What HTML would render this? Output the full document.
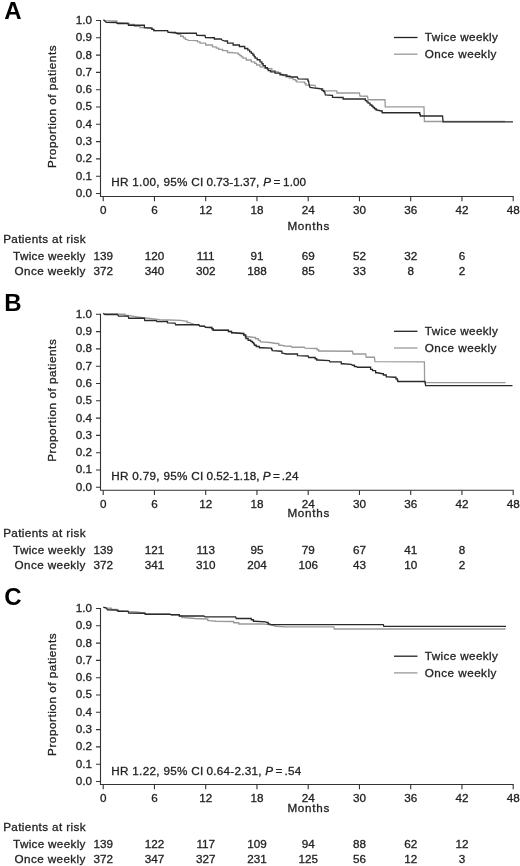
<!DOCTYPE html>
<html><head><meta charset="utf-8"><style>
html,body{margin:0;padding:0;background:#fff;}
svg{display:block;filter:grayscale(1);}
text{font-family:"Liberation Sans", sans-serif;font-size:11.7px;fill:#222;stroke:#222;stroke-width:0.3px;}
.lt{font-weight:bold;font-size:24px;fill:#000;stroke:none;}
</style></head><body>
<svg width="520" height="866" viewBox="0 0 520 866">
<g>
<text class="lt" x="4.2" y="18.80">A</text>
<path d="M100.5 20.00 V196.50 H513.7" fill="none" stroke="#333" stroke-width="1.1"/>
<path d="M96 193.50 H100.5 M96 176.20 H100.5 M96 158.90 H100.5 M96 141.60 H100.5 M96 124.30 H100.5 M96 107.00 H100.5 M96 89.70 H100.5 M96 72.40 H100.5 M96 55.10 H100.5 M96 37.80 H100.5 M96 20.50 H100.5 M103.20 196.50 V201.30 M154.45 196.50 V201.30 M205.70 196.50 V201.30 M256.95 196.50 V201.30 M308.20 196.50 V201.30 M359.45 196.50 V201.30 M410.70 196.50 V201.30 M461.95 196.50 V201.30 M513.20 196.50 V201.30" fill="none" stroke="#333" stroke-width="1.1"/>
<text x="92" y="196.90" text-anchor="end">0.0</text>
<text x="92" y="179.60" text-anchor="end">0.1</text>
<text x="92" y="162.30" text-anchor="end">0.2</text>
<text x="92" y="145.00" text-anchor="end">0.3</text>
<text x="92" y="127.70" text-anchor="end">0.4</text>
<text x="92" y="110.40" text-anchor="end">0.5</text>
<text x="92" y="93.10" text-anchor="end">0.6</text>
<text x="92" y="75.80" text-anchor="end">0.7</text>
<text x="92" y="58.50" text-anchor="end">0.8</text>
<text x="92" y="41.20" text-anchor="end">0.9</text>
<text x="92" y="23.90" text-anchor="end">1.0</text>
<text x="103.20" y="214.20" text-anchor="middle">0</text>
<text x="154.45" y="214.20" text-anchor="middle">6</text>
<text x="205.70" y="214.20" text-anchor="middle">12</text>
<text x="256.95" y="214.20" text-anchor="middle">18</text>
<text x="308.20" y="214.20" text-anchor="middle">24</text>
<text x="359.45" y="214.20" text-anchor="middle">30</text>
<text x="410.70" y="214.20" text-anchor="middle">36</text>
<text x="461.95" y="214.20" text-anchor="middle">42</text>
<text x="513.20" y="214.20" text-anchor="middle">48</text>
<text x="308.4" y="230.40" text-anchor="middle" textLength="42" lengthAdjust="spacing">Months</text>
<text transform="translate(56.3 106.70) rotate(-90)" text-anchor="middle" textLength="122.5" lengthAdjust="spacing">Proportion of patients</text>
<path d="M394 37.50 H417.5" stroke="#222" stroke-width="1.3"/>
<path d="M394 54.20 H417.5" stroke="#999" stroke-width="1.3"/>
<text x="424.8" y="41.30" textLength="73" lengthAdjust="spacing">Twice weekly</text>
<text x="424.8" y="57.80" textLength="71.5" lengthAdjust="spacing">Once weekly</text>
<text x="111.24" y="186.00" style="letter-spacing:0.311px">HR 1.00, 95% CI</text>
<text x="206.44" y="186.00" style="letter-spacing:0.013px">0.73-1.37,</text>
<text x="263.14" y="186.00" font-style="italic">P</text>
<text x="273.43" y="186.00">=</text>
<text x="283.11" y="186.00" style="letter-spacing:0.026px">1.00</text>
<text x="3.2" y="242.90" textLength="82.3" lengthAdjust="spacing">Patients at risk</text>
<text x="85.4" y="260.30" text-anchor="end" textLength="72.3" lengthAdjust="spacing">Twice weekly</text>
<text x="85.4" y="274.90" text-anchor="end" textLength="70.8" lengthAdjust="spacing">Once weekly</text>
<text x="103.20" y="260.30" text-anchor="middle">139</text>
<text x="154.45" y="260.30" text-anchor="middle">120</text>
<text x="205.70" y="260.30" text-anchor="middle">111</text>
<text x="256.95" y="260.30" text-anchor="middle">91</text>
<text x="308.20" y="260.30" text-anchor="middle">69</text>
<text x="359.45" y="260.30" text-anchor="middle">52</text>
<text x="410.70" y="260.30" text-anchor="middle">32</text>
<text x="461.95" y="260.30" text-anchor="middle">6</text>
<text x="103.20" y="274.90" text-anchor="middle">372</text>
<text x="154.45" y="274.90" text-anchor="middle">340</text>
<text x="205.70" y="274.90" text-anchor="middle">302</text>
<text x="256.95" y="274.90" text-anchor="middle">188</text>
<text x="308.20" y="274.90" text-anchor="middle">85</text>
<text x="359.45" y="274.90" text-anchor="middle">33</text>
<text x="410.70" y="274.90" text-anchor="middle">8</text>
<text x="461.95" y="274.90" text-anchor="middle">2</text>
<polyline points="103.50,19.75 104.40,20.30 106.00,20.60 115.00,21.00 116.88,21.00 116.88,22.75 118.75,22.75 128.00,23.20 129.00,23.20 129.00,24.40 130.00,24.40 134.38,24.40 134.38,26.25 138.75,26.25 139.88,26.25 139.88,27.50 141.00,27.50 151.00,28.00 152.00,28.00 152.00,29.30 154.00,29.30 154.00,30.60 155.00,30.60 167.50,30.60 168.10,32.25 176.25,33.25 177.50,33.25 177.50,34.40 178.75,34.40 180.62,34.40 180.62,36.25 182.50,36.25 183.44,36.25 183.44,37.83 185.31,37.83 185.31,39.40 186.25,39.40 188.75,40.40 196.25,40.60 197.50,40.60 197.50,41.85 200.00,41.85 200.00,43.10 201.25,43.10 205.62,43.10 205.62,45.00 210.00,45.00 212.50,45.00 212.50,46.90 215.00,46.90 216.25,46.90 216.25,48.15 218.75,48.15 218.75,49.40 220.00,49.40 222.50,49.40 222.50,50.60 225.00,50.60 227.50,50.60 227.50,52.50 230.00,52.50 237.50,53.10 238.28,53.10 238.28,54.35 239.82,54.35 239.82,55.60 240.60,55.60 241.39,55.60 241.39,56.85 242.96,56.85 242.96,58.10 243.75,58.10 246.25,58.10 246.25,60.00 248.75,60.00 251.25,60.00 251.25,61.90 253.75,61.90 254.69,61.90 254.69,63.45 256.56,63.45 256.56,65.00 257.50,65.00 260.00,65.00 260.00,66.90 262.50,66.90 264.38,66.90 264.38,68.10 266.25,68.10 270.00,68.75 271.88,68.75 271.88,70.60 273.75,70.60 275.31,70.60 275.31,71.85 278.44,71.85 278.44,73.10 280.00,73.10 280.94,73.10 280.94,74.35 282.81,74.35 282.81,75.60 283.75,75.60 285.62,75.60 285.62,76.85 289.38,76.85 289.38,78.10 291.25,78.10 293.12,78.10 293.12,79.60 295.00,79.60 295.57,79.60 295.57,80.75 296.73,80.75 296.73,81.90 297.30,81.90 304.20,82.20 304.77,82.20 304.77,83.60 305.93,83.60 305.93,85.00 306.50,85.00 315.00,85.40 315.80,88.00 321.25,88.75 322.73,88.75 322.73,90.80 324.20,90.80 336.25,90.80 336.88,90.80 336.88,93.00 337.50,93.00 359.40,93.00 360.00,96.00 367.50,96.25 368.10,99.75 385.00,99.75 385.25,106.90 424.00,106.90 424.40,121.50 505.00,121.50" fill="none" stroke="#9a9a9a" stroke-width="1.3" stroke-linejoin="miter"/>
<polyline points="103.50,19.75 104.40,20.60 105.30,21.50 106.25,22.25 116.25,22.50 117.50,23.50 128.00,23.50 128.50,25.25 144.40,25.25 144.40,27.75 151.25,28.10 151.88,28.10 151.88,29.40 152.50,29.40 153.75,29.40 153.75,30.60 155.00,30.60 167.50,30.60 168.10,32.25 175.60,32.50 176.25,33.25 196.25,33.25 196.90,35.25 205.00,35.50 205.60,37.50 213.75,37.75 214.38,37.75 214.38,39.00 215.00,39.00 221.25,39.00 221.90,40.00 225.00,41.00 227.50,41.00 227.50,43.10 230.00,43.10 233.12,43.10 233.12,45.00 236.25,45.00 239.38,45.00 239.38,46.50 242.50,46.50 244.70,46.50 244.70,48.50 246.90,48.50 247.82,48.50 247.82,50.20 249.68,50.20 249.68,51.90 250.60,51.90 251.39,51.90 251.39,53.45 252.96,53.45 252.96,55.00 253.75,55.00 254.21,55.00 254.21,56.55 255.14,56.55 255.14,58.10 255.60,58.10 257.18,58.10 257.18,59.75 258.75,59.75 260.00,59.75 260.00,61.90 261.25,61.90 261.88,61.90 261.88,63.75 263.12,63.75 263.12,65.60 263.75,65.60 265.32,65.60 265.32,67.75 266.90,67.75 267.36,67.75 267.36,69.17 268.29,69.17 268.29,70.60 268.75,70.60 270.62,70.60 270.62,71.90 272.50,71.90 275.00,71.90 275.00,73.10 277.50,73.10 280.00,73.10 280.00,74.75 282.50,74.75 283.75,75.00 286.88,75.00 286.88,76.25 290.00,76.25 291.25,77.00 297.30,77.00 298.10,78.80 307.30,79.10 307.90,79.10 307.90,80.80 308.50,80.80 309.20,85.00 310.00,87.30 315.00,88.10 321.20,88.80 321.95,88.80 321.95,90.40 322.70,90.40 323.65,90.40 323.65,91.50 324.60,91.50 325.40,95.00 331.90,95.40 332.50,95.40 332.50,97.30 333.10,97.30 342.50,97.50 343.12,97.50 343.12,99.00 343.75,99.00 364.40,99.00 365.32,99.00 365.32,100.60 366.25,100.60 366.88,100.60 366.88,101.85 368.12,101.85 368.12,103.10 368.75,103.10 370.00,103.10 370.00,105.00 371.25,105.00 371.88,105.00 371.88,106.25 373.12,106.25 373.12,107.50 373.75,107.50 374.54,107.50 374.54,108.75 376.11,108.75 376.11,110.00 376.90,110.00 381.25,111.00 382.18,111.00 382.18,112.75 383.10,112.75 419.40,112.75 419.70,112.75 419.70,114.38 420.30,114.38 420.30,116.00 420.60,116.00 442.50,116.00 443.10,121.80 513.00,121.80" fill="none" stroke="#2a2a2a" stroke-width="1.3" stroke-linejoin="miter"/>
</g>
<g>
<text class="lt" x="4.2" y="311.00">B</text>
<path d="M100.5 313.80 V490.30 H513.7" fill="none" stroke="#333" stroke-width="1.1"/>
<path d="M96 487.30 H100.5 M96 470.00 H100.5 M96 452.70 H100.5 M96 435.40 H100.5 M96 418.10 H100.5 M96 400.80 H100.5 M96 383.50 H100.5 M96 366.20 H100.5 M96 348.90 H100.5 M96 331.60 H100.5 M96 314.30 H100.5 M103.20 490.30 V495.10 M154.45 490.30 V495.10 M205.70 490.30 V495.10 M256.95 490.30 V495.10 M308.20 490.30 V495.10 M359.45 490.30 V495.10 M410.70 490.30 V495.10 M461.95 490.30 V495.10 M513.20 490.30 V495.10" fill="none" stroke="#333" stroke-width="1.1"/>
<text x="92" y="490.70" text-anchor="end">0.0</text>
<text x="92" y="473.40" text-anchor="end">0.1</text>
<text x="92" y="456.10" text-anchor="end">0.2</text>
<text x="92" y="438.80" text-anchor="end">0.3</text>
<text x="92" y="421.50" text-anchor="end">0.4</text>
<text x="92" y="404.20" text-anchor="end">0.5</text>
<text x="92" y="386.90" text-anchor="end">0.6</text>
<text x="92" y="369.60" text-anchor="end">0.7</text>
<text x="92" y="352.30" text-anchor="end">0.8</text>
<text x="92" y="335.00" text-anchor="end">0.9</text>
<text x="92" y="317.70" text-anchor="end">1.0</text>
<text x="103.20" y="508.00" text-anchor="middle">0</text>
<text x="154.45" y="508.00" text-anchor="middle">6</text>
<text x="205.70" y="508.00" text-anchor="middle">12</text>
<text x="256.95" y="508.00" text-anchor="middle">18</text>
<text x="308.20" y="508.00" text-anchor="middle">24</text>
<text x="359.45" y="508.00" text-anchor="middle">30</text>
<text x="410.70" y="508.00" text-anchor="middle">36</text>
<text x="461.95" y="508.00" text-anchor="middle">42</text>
<text x="513.20" y="508.00" text-anchor="middle">48</text>
<text x="308.4" y="517.40" text-anchor="middle" textLength="42" lengthAdjust="spacing">Months</text>
<text transform="translate(56.3 400.50) rotate(-90)" text-anchor="middle" textLength="122.5" lengthAdjust="spacing">Proportion of patients</text>
<path d="M394 331.30 H417.5" stroke="#222" stroke-width="1.3"/>
<path d="M394 348.00 H417.5" stroke="#999" stroke-width="1.3"/>
<text x="424.8" y="335.10" textLength="73" lengthAdjust="spacing">Twice weekly</text>
<text x="424.8" y="351.60" textLength="71.5" lengthAdjust="spacing">Once weekly</text>
<text x="111.24" y="479.80" style="letter-spacing:0.311px">HR 0.79, 95% CI</text>
<text x="206.44" y="479.80" style="letter-spacing:0.046px">0.52-1.18,</text>
<text x="262.74" y="479.80" font-style="italic">P</text>
<text x="272.93" y="479.80">=</text>
<text x="281.83" y="479.80" style="letter-spacing:0.273px">.24</text>
<text x="3.2" y="536.70" textLength="82.3" lengthAdjust="spacing">Patients at risk</text>
<text x="85.4" y="554.10" text-anchor="end" textLength="72.3" lengthAdjust="spacing">Twice weekly</text>
<text x="85.4" y="568.70" text-anchor="end" textLength="70.8" lengthAdjust="spacing">Once weekly</text>
<text x="103.20" y="554.10" text-anchor="middle">139</text>
<text x="154.45" y="554.10" text-anchor="middle">121</text>
<text x="205.70" y="554.10" text-anchor="middle">113</text>
<text x="256.95" y="554.10" text-anchor="middle">95</text>
<text x="308.20" y="554.10" text-anchor="middle">79</text>
<text x="359.45" y="554.10" text-anchor="middle">67</text>
<text x="410.70" y="554.10" text-anchor="middle">41</text>
<text x="461.95" y="554.10" text-anchor="middle">8</text>
<text x="103.20" y="568.70" text-anchor="middle">372</text>
<text x="154.45" y="568.70" text-anchor="middle">341</text>
<text x="205.70" y="568.70" text-anchor="middle">310</text>
<text x="256.95" y="568.70" text-anchor="middle">204</text>
<text x="308.20" y="568.70" text-anchor="middle">106</text>
<text x="359.45" y="568.70" text-anchor="middle">43</text>
<text x="410.70" y="568.70" text-anchor="middle">10</text>
<text x="461.95" y="568.70" text-anchor="middle">2</text>
<polyline points="103.30,313.40 104.20,313.90 105.00,314.00 117.50,314.00 121.25,314.25 125.00,314.25 125.00,315.50 128.75,315.50 132.50,316.10 137.50,317.00 143.75,317.75 146.00,318.00 150.00,318.50 156.00,319.20 160.00,319.70 170.00,320.00 181.00,320.30 185.00,321.20 187.00,321.20 187.00,322.50 189.00,322.50 192.00,323.50 194.00,324.30 198.75,324.75 199.75,326.00 204.40,326.25 205.60,327.25 211.25,327.50 211.88,327.50 211.88,328.75 212.50,328.75 213.12,328.75 213.12,330.25 213.75,330.25 227.50,330.25 228.45,330.25 228.45,331.50 229.40,331.50 231.57,331.50 231.57,332.75 233.75,332.75 242.50,333.50 243.75,333.50 243.75,335.00 245.00,335.00 246.25,335.00 246.25,336.50 247.50,336.50 253.75,337.50 255.62,337.50 255.62,338.75 257.50,338.75 258.44,338.75 258.44,340.32 260.31,340.32 260.31,341.90 261.25,341.90 270.00,342.50 276.25,343.50 278.75,343.50 278.75,345.25 281.25,345.25 285.00,346.00 291.25,346.25 291.90,347.25 304.40,347.25 305.00,348.10 316.25,348.50 317.04,348.50 317.04,349.75 318.61,349.75 318.61,351.00 319.40,351.00 352.50,351.25 353.10,354.00 365.60,354.00 366.25,357.25 374.40,357.25 375.00,361.70 424.40,361.90 424.60,382.70 505.60,382.70" fill="none" stroke="#9a9a9a" stroke-width="1.3" stroke-linejoin="miter"/>
<polyline points="103.30,313.40 104.20,314.00 105.00,314.50 117.50,314.50 118.50,316.10 128.10,316.10 128.75,318.25 144.40,318.25 144.75,320.50 156.25,320.50 156.90,321.50 166.90,321.50 167.50,321.50 167.50,322.90 168.10,322.90 175.00,323.10 175.60,324.75 198.75,324.75 199.75,326.00 204.40,326.25 205.60,327.25 211.25,327.50 211.88,327.50 211.88,328.75 212.50,328.75 213.12,328.75 213.12,330.25 213.75,330.25 227.50,330.25 228.45,330.25 228.45,331.50 229.40,331.50 231.57,331.50 231.57,332.75 233.75,332.75 242.50,333.50 243.75,333.50 243.75,335.00 245.00,335.00 245.31,335.00 245.31,336.75 245.94,336.75 245.94,338.50 246.25,338.50 248.12,338.50 248.12,340.25 250.00,340.25 250.78,340.25 250.78,341.38 252.32,341.38 252.32,342.50 253.10,342.50 253.57,342.50 253.57,343.88 254.53,343.88 254.53,345.25 255.00,345.25 256.25,345.25 256.25,346.50 257.50,346.50 259.38,346.50 259.38,347.75 261.25,347.75 271.25,348.10 271.56,348.10 271.56,349.35 272.19,349.35 272.19,350.60 272.50,350.60 281.25,351.25 281.88,351.25 281.88,353.10 282.50,353.10 286.25,354.00 296.90,354.00 297.50,354.00 297.50,355.60 298.10,355.60 308.10,356.00 308.75,357.50 314.40,357.50 315.17,357.50 315.17,358.75 316.73,358.75 316.73,360.00 317.50,360.00 329.40,360.60 330.00,361.90 340.00,361.90 341.25,361.90 341.25,363.75 342.50,363.75 351.25,364.40 352.50,365.25 354.38,365.25 354.38,366.50 356.25,366.50 357.50,367.25 370.00,367.25 370.62,367.25 370.62,369.40 371.25,369.40 372.50,369.40 372.50,370.60 373.75,370.60 375.62,370.60 375.62,372.75 377.50,372.75 382.50,373.75 383.45,373.75 383.45,375.00 384.40,375.00 386.25,375.00 386.25,376.90 388.10,376.90 395.00,377.25 395.95,377.25 395.95,378.75 396.90,378.75 397.20,378.75 397.20,380.12 397.80,380.12 397.80,381.50 398.10,381.50 425.00,381.50 425.60,385.70 512.50,385.70" fill="none" stroke="#2a2a2a" stroke-width="1.3" stroke-linejoin="miter"/>
</g>
<g>
<text class="lt" x="4.2" y="605.30">C</text>
<path d="M100.5 608.00 V784.50 H513.7" fill="none" stroke="#333" stroke-width="1.1"/>
<path d="M96 781.50 H100.5 M96 764.20 H100.5 M96 746.90 H100.5 M96 729.60 H100.5 M96 712.30 H100.5 M96 695.00 H100.5 M96 677.70 H100.5 M96 660.40 H100.5 M96 643.10 H100.5 M96 625.80 H100.5 M96 608.50 H100.5 M103.20 784.50 V789.30 M154.45 784.50 V789.30 M205.70 784.50 V789.30 M256.95 784.50 V789.30 M308.20 784.50 V789.30 M359.45 784.50 V789.30 M410.70 784.50 V789.30 M461.95 784.50 V789.30 M513.20 784.50 V789.30" fill="none" stroke="#333" stroke-width="1.1"/>
<text x="92" y="784.90" text-anchor="end">0.0</text>
<text x="92" y="767.60" text-anchor="end">0.1</text>
<text x="92" y="750.30" text-anchor="end">0.2</text>
<text x="92" y="733.00" text-anchor="end">0.3</text>
<text x="92" y="715.70" text-anchor="end">0.4</text>
<text x="92" y="698.40" text-anchor="end">0.5</text>
<text x="92" y="681.10" text-anchor="end">0.6</text>
<text x="92" y="663.80" text-anchor="end">0.7</text>
<text x="92" y="646.50" text-anchor="end">0.8</text>
<text x="92" y="629.20" text-anchor="end">0.9</text>
<text x="92" y="611.90" text-anchor="end">1.0</text>
<text x="103.20" y="802.20" text-anchor="middle">0</text>
<text x="154.45" y="802.20" text-anchor="middle">6</text>
<text x="205.70" y="802.20" text-anchor="middle">12</text>
<text x="256.95" y="802.20" text-anchor="middle">18</text>
<text x="308.20" y="802.20" text-anchor="middle">24</text>
<text x="359.45" y="802.20" text-anchor="middle">30</text>
<text x="410.70" y="802.20" text-anchor="middle">36</text>
<text x="461.95" y="802.20" text-anchor="middle">42</text>
<text x="513.20" y="802.20" text-anchor="middle">48</text>
<text x="308.4" y="812.20" text-anchor="middle" textLength="42" lengthAdjust="spacing">Months</text>
<text transform="translate(56.3 694.70) rotate(-90)" text-anchor="middle" textLength="122.5" lengthAdjust="spacing">Proportion of patients</text>
<path d="M394 656.20 H417.5" stroke="#222" stroke-width="1.3"/>
<path d="M394 672.90 H417.5" stroke="#999" stroke-width="1.3"/>
<text x="424.8" y="660.00" textLength="73" lengthAdjust="spacing">Twice weekly</text>
<text x="424.8" y="676.50" textLength="71.5" lengthAdjust="spacing">Once weekly</text>
<text x="111.24" y="774.50" style="letter-spacing:0.311px">HR 1.22, 95% CI</text>
<text x="206.44" y="774.50" style="letter-spacing:0.269px">0.64-2.31,</text>
<text x="265.14" y="774.50" font-style="italic">P</text>
<text x="275.43" y="774.50">=</text>
<text x="284.43" y="774.50" style="letter-spacing:0.323px">.54</text>
<text x="3.2" y="830.90" textLength="82.3" lengthAdjust="spacing">Patients at risk</text>
<text x="85.4" y="848.30" text-anchor="end" textLength="72.3" lengthAdjust="spacing">Twice weekly</text>
<text x="85.4" y="862.90" text-anchor="end" textLength="70.8" lengthAdjust="spacing">Once weekly</text>
<text x="103.20" y="848.30" text-anchor="middle">139</text>
<text x="154.45" y="848.30" text-anchor="middle">122</text>
<text x="205.70" y="848.30" text-anchor="middle">117</text>
<text x="256.95" y="848.30" text-anchor="middle">109</text>
<text x="308.20" y="848.30" text-anchor="middle">94</text>
<text x="359.45" y="848.30" text-anchor="middle">88</text>
<text x="410.70" y="848.30" text-anchor="middle">62</text>
<text x="461.95" y="848.30" text-anchor="middle">12</text>
<text x="103.20" y="862.90" text-anchor="middle">372</text>
<text x="154.45" y="862.90" text-anchor="middle">347</text>
<text x="205.70" y="862.90" text-anchor="middle">327</text>
<text x="256.95" y="862.90" text-anchor="middle">231</text>
<text x="308.20" y="862.90" text-anchor="middle">125</text>
<text x="359.45" y="862.90" text-anchor="middle">56</text>
<text x="410.70" y="862.90" text-anchor="middle">12</text>
<text x="461.95" y="862.90" text-anchor="middle">3</text>
<polyline points="103.30,607.40 107.50,608.25 111.25,608.25 111.25,609.50 115.00,609.50 116.88,609.50 116.88,610.75 118.75,610.75 127.50,611.00 130.00,611.75 136.25,612.00 143.75,613.00 144.68,613.00 144.68,614.25 145.60,614.25 170.00,614.25 171.25,614.75 178.75,614.75 179.38,614.75 179.38,616.00 180.00,616.00 181.88,616.00 181.88,617.50 183.75,617.50 195.00,618.50 206.25,619.00 207.82,619.00 207.82,620.60 209.40,620.60 216.25,621.25 232.50,621.50 233.75,621.50 233.75,622.75 235.00,622.75 238.75,622.75 238.75,624.00 242.50,624.00 262.50,624.00 267.50,624.40 272.50,625.25 276.25,626.25 285.00,626.90 333.75,626.90 334.40,629.00 505.60,629.00" fill="none" stroke="#9a9a9a" stroke-width="1.3" stroke-linejoin="miter"/>
<polyline points="103.30,607.40 105.60,607.60 106.50,608.60 107.50,609.75 117.50,610.10 118.12,610.10 118.12,611.40 118.75,611.40 128.10,611.40 128.75,613.00 145.00,613.25 145.60,614.25 170.00,614.25 171.25,614.75 178.75,614.75 179.38,614.75 179.38,616.00 180.00,616.00 203.75,616.00 205.00,616.90 235.60,616.90 236.25,618.50 250.60,618.50 251.25,618.50 251.25,619.75 251.90,619.75 253.45,619.75 253.45,621.25 255.00,621.25 265.60,621.90 266.90,622.50 268.15,622.50 268.15,624.00 269.40,624.00 271.25,624.60 383.30,624.60 383.80,626.30 506.00,626.30" fill="none" stroke="#2a2a2a" stroke-width="1.3" stroke-linejoin="miter"/>
</g>
</svg>
</body></html>
